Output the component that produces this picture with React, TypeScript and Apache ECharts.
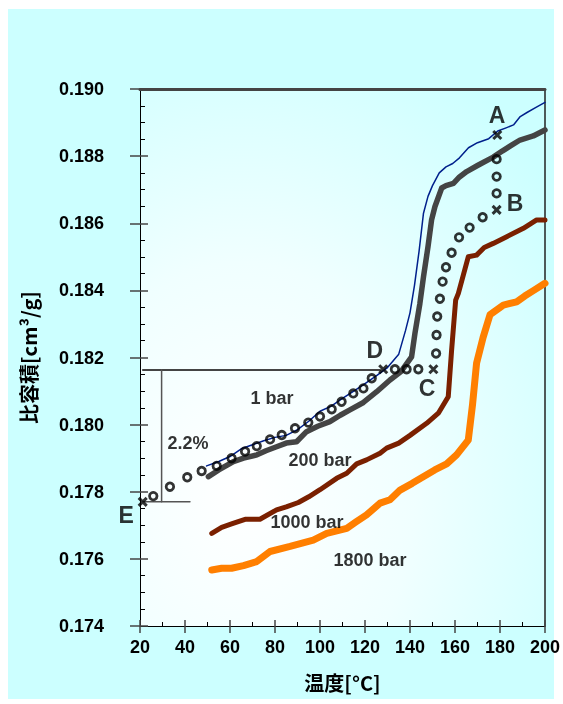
import React, { useEffect, useRef } from "react";
import * as echarts from "echarts";

// 1 bar (thin navy line)
const line1bar: [number, number][] = [
  [49.6, 0.17877], [55, 0.1789], [60, 0.17905], [65, 0.17928], [70, 0.1794], [75, 0.17952],
  [80, 0.17962], [85, 0.17968], [90, 0.17985], [95, 0.1801], [100, 0.1804], [105, 0.18055],
  [110, 0.18078], [115, 0.181], [120, 0.18122], [125, 0.18145], [130, 0.1817], [135, 0.1821],
  [138, 0.1828], [140, 0.18333], [142, 0.18415], [144, 0.18515], [146, 0.1863], [148, 0.1868],
  [150, 0.18712], [153, 0.1875], [156, 0.18768], [159, 0.18778], [162, 0.18795], [166, 0.18825],
  [170, 0.1884], [175, 0.18852], [179, 0.18875], [183, 0.18885], [186, 0.18893], [189, 0.18918],
  [192, 0.1893], [196, 0.18945], [200, 0.1896],
];

// 200 bar (thick grey line)
const line200bar: [number, number][] = [
  [50.4, 0.17845], [55, 0.17865], [61.5, 0.1789], [66, 0.179], [72, 0.1791], [76, 0.17922],
  [80.7, 0.17934], [85, 0.17945], [89.6, 0.17949], [94, 0.17979], [99, 0.17995], [104.4, 0.18009],
  [109, 0.18028], [113.3, 0.18044], [119.3, 0.18066], [125.2, 0.18098], [131.1, 0.18133],
  [136, 0.18158], [140.7, 0.18202], [142.2, 0.18272], [144.4, 0.18361], [146, 0.1844],
  [148, 0.1853], [149.6, 0.1861], [151.1, 0.1865], [154.1, 0.18705], [156, 0.18712],
  [159.3, 0.18719], [162, 0.18738], [165.2, 0.18754], [170, 0.18772], [177, 0.18797],
  [181, 0.18815], [185, 0.18832], [188.9, 0.18848], [194.8, 0.1886], [200, 0.18878],
];

// 1000 bar (brown line)
const line1000bar: [number, number][] = [
  [51.9, 0.17676], [56.3, 0.17694], [61, 0.17705], [66.7, 0.17718], [73.3, 0.17718],
  [80.7, 0.17746], [85, 0.17755], [90.4, 0.17768], [95, 0.17785], [100, 0.17806],
  [107.4, 0.1784], [111.9, 0.17855], [116.3, 0.17883], [120.7, 0.17895], [126.7, 0.17915],
  [129.6, 0.1793], [135, 0.17945], [140, 0.17968], [147.4, 0.18004], [152.6, 0.18034],
  [157, 0.18083], [158.5, 0.18222], [160.3, 0.18371], [161.5, 0.18391], [165.9, 0.185],
  [169.6, 0.18505], [173, 0.18528], [177, 0.1854], [183, 0.1856], [190.4, 0.18585],
  [196.3, 0.1861], [200, 0.1861],
];

// 1800 bar (orange line)
const line1800bar: [number, number][] = [
  [51.9, 0.17567], [56.3, 0.17572], [60.7, 0.17572], [66, 0.1758], [71.9, 0.17592],
  [77.8, 0.17622], [86.7, 0.17637], [97, 0.17656], [103, 0.17676], [111.9, 0.17691],
  [116, 0.1771], [120.7, 0.17731], [126.7, 0.17766], [131.1, 0.17776], [135.6, 0.17805],
  [141, 0.17825], [145.9, 0.17845], [151, 0.17865], [156.3, 0.17883], [160.7, 0.1791],
  [165.9, 0.17954], [167.8, 0.1806], [169.6, 0.18183], [172.5, 0.1826], [175.6, 0.18328],
  [181.5, 0.18356], [187.4, 0.18366], [191, 0.18383], [195, 0.184], [200, 0.18421],
];

// Process path E -> D -> C -> B -> A (open circles)
const pathCircles: [number, number][] = [
  [25.9, 0.17787], [33.3, 0.17815], [41, 0.17843], [47.4, 0.17862], [54.1, 0.17877],
  [60.7, 0.179], [66.7, 0.1792], [71.9, 0.17936], [77.8, 0.17956], [83, 0.17969],
  [88.9, 0.17989], [94.8, 0.18006], [100, 0.18024], [105.2, 0.18046], [109.6, 0.18068],
  [114.8, 0.18093], [119.3, 0.18108], [123, 0.18138],
  [133.3, 0.18165], [138.5, 0.18165], [143.7, 0.18165],
  [151.6, 0.18212], [151.8, 0.18267], [152.1, 0.18322], [153.3, 0.18375], [154.5, 0.18426],
  [156, 0.18469], [158.5, 0.18512], [161.8, 0.18558], [166.5, 0.18587], [172.3, 0.18618],
  [178.5, 0.18689], [178.5, 0.18739], [178.5, 0.18791],
];

// Named states (x marks)
const stateMarks: [number, number][] = [
  [21.2, 0.1777], [128.1, 0.18165], [150.4, 0.18165], [178.5, 0.1864], [178.8, 0.18863],
];
const stateNames = ["E", "D", "C", "B", "A"];
const stateLabelPos: [number, number][] = [
  [13.8, 0.17731], [124.4, 0.18222], [147.6, 0.18109], [186.7, 0.1866], [178.7, 0.18923],
];

// Guide lines for 2.2%
const guideTop: [number, number][] = [[21.3, 0.18163], [126.7, 0.18163]];
const guideVert: [number, number][] = [[29.6, 0.18163], [29.6, 0.1777]];
const guideBottom: [number, number][] = [[21.3, 0.1777], [42.2, 0.1777]];

const seriesLabels = ["1 bar", "200 bar", "1000 bar", "1800 bar", "2.2%"];
const seriesLabelPos: [number, number][] = [
  [78.7, 0.18079], [100, 0.17895], [94.2, 0.1771], [122.2, 0.17597], [41.3, 0.17945],
];

const xTicks = { min: 20, max: 200, interval: 20 };
const yTicks = { min: 0.174, max: 0.19, interval: 0.002 };

const FONT = "'Liberation Sans', Arial, sans-serif";
const CJK = "'Noto Sans CJK JP', 'Liberation Sans', sans-serif";

export default function App() {
  const ref = useRef<HTMLDivElement>(null);
  useEffect(() => {
    if (!ref.current) return;
    const chart = echarts.init(ref.current, null, { renderer: "svg" });
    const lineSeries = (data: [number, number][], color: string, width: number) => ({
      type: "line",
      data,
      symbol: "none",
      lineStyle: { color, width, join: "round", cap: "round" },
      z: 3,
      silent: true,
    });
    const option: any = {
      animation: false,
      graphic: [
        {
          type: "rect",
          shape: { x: 8, y: 9, width: 546, height: 690 },
          style: { fill: "#ccffff" },
          z: -100,
          silent: true,
        },
      ],
      grid: {
        left: 140,
        right: 18,
        top: 89,
        bottom: 78,
        show: true,
        borderWidth: 0,
        backgroundColor: new echarts.graphic.RadialGradient(0.25, 0.75, 0.95, [
          { offset: 0, color: "#ffffff" },
          { offset: 0.45, color: "#f0ffff" },
          { offset: 1, color: "#ccffff" },
        ]),
      },
      xAxis: [
        {
          type: "value",
          ...xTicks,
          position: "bottom",
          axisLine: { lineStyle: { color: "#000", width: 1 } },
          axisTick: { inside: false, length: 7, lineStyle: { color: "#444", width: 1.5 } },
          axisLabel: { fontSize: 18, fontWeight: "bold", color: "#000", margin: 12, fontFamily: FONT },
          splitLine: { show: false },
          name: "温度[°C]",
          nameLocation: "middle",
          nameGap: 46,
          nameTextStyle: { fontSize: 20, fontWeight: "bold", color: "#000", fontFamily: CJK },
        },
        {
          type: "value",
          ...xTicks,
          position: "bottom",
          axisLine: { show: false },
          axisTick: { inside: true, length: 6, lineStyle: { color: "#444", width: 1.5 } },
          minorTick: { show: true, splitNumber: 2, length: 4, lineStyle: { color: "#000", width: 1 } },
          axisLabel: { show: false },
          splitLine: { show: false },
        },
        {
          type: "value",
          ...xTicks,
          position: "top",
          axisLine: { lineStyle: { color: "#444", width: 3 } },
          axisTick: { show: false },
          axisLabel: { show: false },
          splitLine: { show: false },
        },
      ],
      yAxis: [
        {
          type: "value",
          ...yTicks,
          position: "left",
          axisLine: { lineStyle: { color: "#000", width: 1 } },
          axisTick: { inside: false, length: 10, lineStyle: { color: "#444", width: 1.5 } },
          axisLabel: {
            fontSize: 18,
            fontWeight: "bold",
            color: "#000",
            margin: 36,
            fontFamily: FONT,
            formatter: (v: number) => v.toFixed(3),
          },
          splitLine: { show: false },
          name: "比容積[cm³/g]",
          nameLocation: "middle",
          nameGap: 102,
          nameTextStyle: { fontSize: 20, fontWeight: "bold", color: "#000", fontFamily: CJK },
        },
        {
          type: "value",
          ...yTicks,
          position: "left",
          axisLine: { show: false },
          axisTick: { inside: true, length: 8, lineStyle: { color: "#444", width: 1.5 } },
          minorTick: { show: true, splitNumber: 4, length: 5, lineStyle: { color: "#000", width: 1 } },
          axisLabel: { show: false },
          splitLine: { show: false },
        },
        {
          type: "value",
          ...yTicks,
          position: "right",
          axisLine: { lineStyle: { color: "#222", width: 1.5 } },
          axisTick: { show: false },
          axisLabel: { show: false },
          splitLine: { show: false },
        },
      ],
      series: [
        lineSeries(guideTop, "#444", 2),
        lineSeries(guideVert, "#555", 1.5),
        lineSeries(guideBottom, "#555", 1.5),
        lineSeries(line1800bar, "#ff7f00", 7),
        lineSeries(line1000bar, "#7a2000", 5),
        lineSeries(line200bar, "#444444", 5.5),
        lineSeries(line1bar, "#00208c", 1.5),
        {
          type: "scatter",
          data: pathCircles,
          symbol: "circle",
          symbolSize: 7.5,
          itemStyle: { color: "rgba(0,0,0,0)", borderColor: "#000", borderWidth: 2.8 },
          z: 5,
          silent: true,
        },
        {
          type: "scatter",
          data: stateMarks,
          symbol: "path://M0 0 L10 10 M10 0 L0 10",
          symbolSize: 8,
          clip: false,
          itemStyle: { color: "rgba(0,0,0,0)", borderColor: "#000", borderWidth: 3 },
          z: 6,
          silent: true,
        },
        {
          type: "scatter",
          data: stateNames.map((n, i) => ({ name: n, value: stateLabelPos[i] })),
          symbolSize: 0,
          clip: false,
          label: {
            show: true,
            position: "inside",
            formatter: "{b}",
            fontSize: 23,
            fontWeight: "bold",
            color: "#000",
            fontFamily: FONT,
          },
          z: 7,
          silent: true,
        },
        {
          type: "scatter",
          data: seriesLabels.map((n, i) => ({ name: n, value: seriesLabelPos[i] })),
          symbolSize: 0,
          clip: false,
          label: {
            show: true,
            position: "inside",
            formatter: "{b}",
            fontSize: 18,
            fontWeight: "bold",
            color: "#000",
            fontFamily: FONT,
          },
          z: 7,
          silent: true,
        },
      ],
    };
    chart.setOption(option);
    return () => chart.dispose();
  }, []);
  return (
    <div
      ref={ref}
      style={{ position: "fixed", left: 0, top: 0, width: 563, height: 704 }}
    />
  );
}
